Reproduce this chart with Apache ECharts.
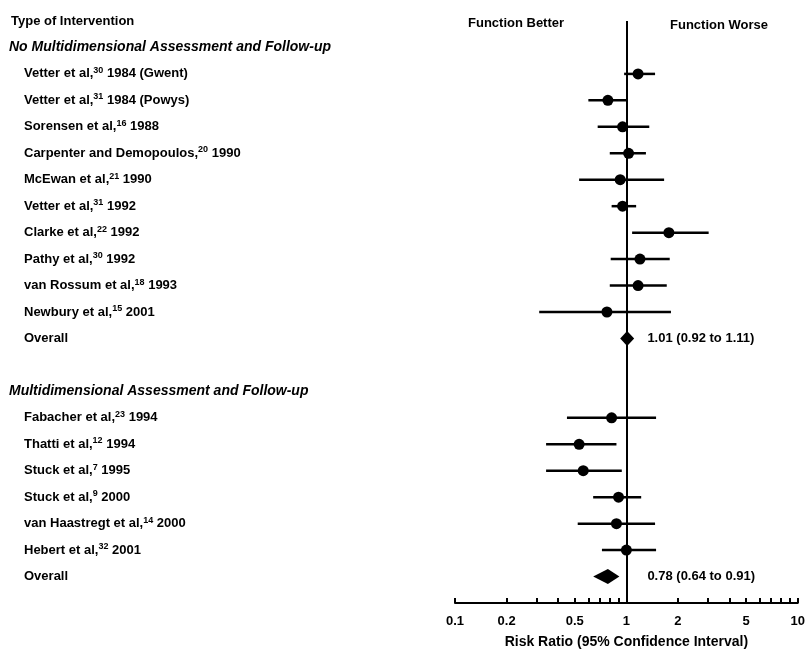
<!DOCTYPE html>
<html><head><meta charset="utf-8">
<script src="https://cdn.jsdelivr.net/npm/echarts@6/dist/echarts.min.js"></script>
<style>html,body{margin:0;padding:0;background:#fff}#c{width:808px;height:659px}</style>
</head><body><div id="c"></div>
<script>
// ---- data ----
const group1Name = 'No Multidimensional Assessment and Follow-up';
const group1Authors = ['Vetter et al,', 'Vetter et al,', 'Sorensen et al,', 'Carpenter and Demopoulos,', 'McEwan et al,', 'Vetter et al,', 'Clarke et al,', 'Pathy et al,', 'van Rossum et al,', 'Newbury et al,'];
const group1Refs = ['30', '31', '16', '20', '21', '31', '22', '30', '18', '15'];
const group1Years = ['1984 (Gwent)', '1984 (Powys)', '1988', '1990', '1990', '1992', '1992', '1992', '1993', '2001'];
const group1RR = [1.17, 0.78, 0.95, 1.03, 0.92, 0.95, 1.77, 1.20, 1.17, 0.77];
const group1Lo = [0.97, 0.60, 0.68, 0.80, 0.53, 0.82, 1.08, 0.81, 0.80, 0.31];
const group1Hi = [1.47, 1.00, 1.36, 1.30, 1.66, 1.14, 3.02, 1.79, 1.72, 1.82];
const group1Overall = [1.01, 0.92, 1.11];

const group2Name = 'Multidimensional Assessment and Follow-up';
const group2Authors = ['Fabacher et al,', 'Thatti et al,', 'Stuck et al,', 'Stuck et al,', 'van Haastregt et al,', 'Hebert et al,'];
const group2Refs = ['23', '12', '7', '9', '14', '32'];
const group2Years = ['1994', '1994', '1995', '2000', '2000', '2001'];
const group2RR = [0.82, 0.53, 0.56, 0.90, 0.875, 1.00];
const group2Lo = [0.45, 0.34, 0.34, 0.64, 0.52, 0.72];
const group2Hi = [1.49, 0.875, 0.94, 1.22, 1.47, 1.49];
const group2Overall = [0.78, 0.64, 0.91];

const xTickLabels = [0.1, 0.2, 0.5, 1, 2, 5, 10];
const xTicks = [0.1, 0.2, 0.3, 0.4, 0.5, 0.6, 0.7, 0.8, 0.9, 1, 2, 3, 4, 5, 6, 7, 8, 9, 10];
const headerText = 'Type of Intervention';
const xAxisTitle = 'Risk Ratio (95% Confidence Interval)';

// ---- build rows ----
const rowLabels = [];
const studyRows = [];   // [row, rr, lo, hi]
const overallRows = []; // [row, rr, lo, hi]
rowLabels.push('{hdr|' + headerText + '}');
rowLabels.push('{grp|' + group1Name + '}');
group1Authors.forEach((a, i) => {
  studyRows.push([rowLabels.length, group1RR[i], group1Lo[i], group1Hi[i]]);
  rowLabels.push('{std|' + a + '}{sup|' + group1Refs[i] + '}{yr| ' + group1Years[i] + '}');
});
overallRows.push([rowLabels.length, group1Overall[0], group1Overall[1], group1Overall[2]]);
rowLabels.push('{std|Overall}');
rowLabels.push('');
rowLabels.push('{grp2|' + group2Name + '}');
group2Authors.forEach((a, i) => {
  studyRows.push([rowLabels.length, group2RR[i], group2Lo[i], group2Hi[i]]);
  rowLabels.push('{std|' + a + '}{sup|' + group2Refs[i] + '}{yr| ' + group2Years[i] + '}');
});
overallRows.push([rowLabels.length, group2Overall[0], group2Overall[1], group2Overall[2]]);
rowLabels.push('{std|Overall}');
rowLabels.push('');
const categories = rowLabels.map((_, i) => String(i));

const FONT = 'Liberation Sans, Arial, sans-serif';
const chart = echarts.init(document.getElementById('c'));
chart.setOption({
  animation: false,
  backgroundColor: '#fff',
  textStyle: { fontFamily: FONT, color: '#000' },
  grid: { left: 455, right: 7, top: 21, bottom: 56, containLabel: false },
  xAxis: {
    type: 'log', logBase: 10, min: 0.1, max: 10,
    name: xAxisTitle, nameLocation: 'middle', nameGap: 32,
    nameTextStyle: { fontFamily: FONT, fontSize: 14, fontWeight: 'bold', color: '#000' },
    axisLine: { show: true, onZero: false, lineStyle: { color: '#000', width: 2 } },
    axisTick: { show: true, inside: true, length: 5, customValues: xTicks, lineStyle: { color: '#000', width: 2 } },
    axisLabel: { customValues: xTickLabels, margin: 12, fontFamily: FONT, fontSize: 13, fontWeight: 'bold', color: '#000',
      formatter: v => String(v) },
    splitLine: { show: false }, minorTick: { show: false }
  },
  yAxis: {
    type: 'category', inverse: true, boundaryGap: false, data: categories,
    axisLine: { show: false }, axisTick: { show: false }, splitLine: { show: false },
    axisLabel: {
      show: true, interval: 0, align: 'left', margin: 444,
      formatter: (v, idx) => rowLabels[idx],
      rich: {
        hdr: { fontFamily: FONT, fontSize: 13, fontWeight: 'bold', color: '#000', lineHeight: 16 },
        grp: { fontFamily: FONT, fontSize: 14, fontWeight: 'bold', fontStyle: 'italic', color: '#000', lineHeight: 16, padding: [0, 0, 0, -2] },
        grp2: { fontFamily: FONT, fontSize: 14, fontWeight: 'bold', fontStyle: 'italic', color: '#000', lineHeight: 16, padding: [0, 0, 0, -2] },
        std: { fontFamily: FONT, fontSize: 13, fontWeight: 'bold', color: '#000', lineHeight: 16, padding: [0, 0, 0, 13] },
        sup: { fontFamily: FONT, fontSize: 9, fontWeight: 'bold', color: '#000', lineHeight: 16, verticalAlign: 'top' },
        yr: { fontFamily: FONT, fontSize: 13, fontWeight: 'bold', color: '#000', lineHeight: 16 }
      }
    }
  },
  graphic: [
    { type: 'text', left: 468, top: 17, style: { text: 'Function Better', font: 'bold 13px ' + FONT, fill: '#000' } },
    { type: 'text', left: 670, top: 19, style: { text: 'Function Worse', font: 'bold 13px ' + FONT, fill: '#000' } }
  ],
  series: [
    {
      type: 'custom', name: 'studies', data: studyRows.map(r => [r[1], r[0], r[2], r[3]]),
      encode: { x: 0, y: 1 },
      renderItem: (params, api) => {
        const row = api.value(1);
        const p = api.coord([api.value(0), row]);
        const a = api.coord([api.value(2), row]);
        const b = api.coord([api.value(3), row]);
        return {
          type: 'group', children: [
            { type: 'line', shape: { x1: a[0], y1: a[1], x2: b[0], y2: b[1] }, style: { stroke: '#000', lineWidth: 2.5 } },
            { type: 'circle', shape: { cx: p[0], cy: p[1], r: 5.5 }, style: { fill: '#000' } }
          ]
        };
      },
      markLine: {
        silent: true, symbol: ['none', 'none'], label: { show: false },
        lineStyle: { color: '#000', width: 2, type: 'solid' },
        data: [{ xAxis: 1 }]
      },
      z: 3
    },
    {
      type: 'custom', name: 'overall', data: overallRows.map(r => [r[1], r[0], r[2], r[3]]),
      encode: { x: 0, y: 1 },
      renderItem: (params, api) => {
        const row = api.value(1);
        const rr = api.value(0), lo = api.value(2), hi = api.value(3);
        const p = api.coord([rr, row]);
        const a = api.coord([lo, row]);
        const b = api.coord([hi, row]);
        const ref = api.coord([1, row]);
        const h = 7.5;
        return {
          type: 'group', children: [
            { type: 'polygon', shape: { points: [[a[0], a[1]], [p[0], p[1] - h], [b[0], b[1]], [p[0], p[1] + h]] }, style: { fill: '#000' } },
            { type: 'text', x: ref[0] + 21, y: p[1], style: {
                text: rr.toFixed(2) + ' (' + lo.toFixed(2) + ' to ' + hi.toFixed(2) + ')',
                font: 'bold 13px ' + FONT, fill: '#000', verticalAlign: 'middle', align: 'left' } }
          ]
        };
      },
      z: 3
    }
  ]
});
</script>
</body></html>
